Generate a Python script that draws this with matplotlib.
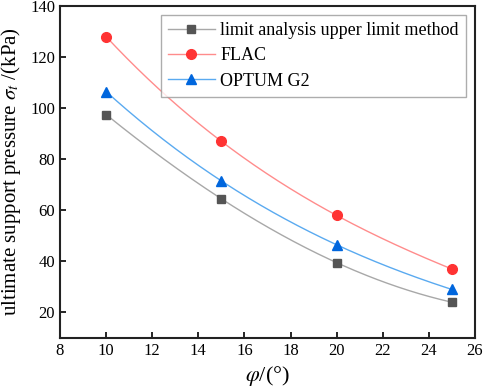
import matplotlib
matplotlib.use("Agg")
import matplotlib.pyplot as plt
import numpy as np

plt.rcParams['font.family'] = ['Liberation Serif', 'DejaVu Serif']
plt.rcParams['mathtext.fontset'] = 'stix'

# data
phi = [10, 15, 20, 25]
upper_limit = [97.5, 64.5, 39.5, 24.0]
flac = [128.0, 87.0, 58.0, 37.0]
optum = [106.5, 71.5, 46.5, 29.0]

labels = ['limit analysis upper limit method', 'FLAC', 'OPTUM G2']
series = [upper_limit, flac, optum]
line_colors = ['#a8a8a8', '#ff8c8c', '#5aaaf0']
marker_colors = ['#555555', '#ff3333', '#0066dd']
markers = ['s', 'o', '^']
msizes = [5.5, 7, 7.5]

fig = plt.figure(figsize=(4.84, 3.91), dpi=100)
ax = fig.add_axes([60 / 484, 1 - 338 / 391, 415 / 484, 332 / 391])

xs = np.linspace(phi[0], phi[-1], 200)
for ys, lab, lc, mc, mk, ms in zip(series, labels, line_colors, marker_colors, markers, msizes):
    coef = np.polyfit(phi, ys, 3)
    ax.plot(xs, np.polyval(coef, xs), color=lc, lw=1.0, zorder=2)
    ax.plot(phi, ys, ls='none', marker=mk, ms=ms, color=mc, zorder=3)
    ax.plot([], [], color=lc, lw=1.0, marker=mk, ms=ms, mfc=mc, mec=mc, label=lab)

ax.set_xlim(8, 26)
ax.set_ylim(10, 140)
ax.set_xticks(range(8, 27, 2))
ax.set_yticks(range(20, 141, 20))
ax.tick_params(direction='in', length=4, width=1.2, labelsize=12, top=False, right=False)
for s in ax.spines.values():
    s.set_linewidth(1.5)
    s.set_color('#222222')

ax.set_xlabel(r'$\varphi$/(°)', fontsize=16, labelpad=4)
ax.set_ylabel(r'ultimate support pressure $\sigma_t$ /(kPa)', fontsize=15, labelpad=5)

leg = ax.legend(loc='upper right', fontsize=13, frameon=True, fancybox=False,
                edgecolor='#999999', borderpad=0.4, labelspacing=0.45,
                handlelength=2.6, handletextpad=0.3, borderaxespad=0.5)
leg.get_frame().set_linewidth(1.0)

fig.savefig('out.png', dpi=100)
